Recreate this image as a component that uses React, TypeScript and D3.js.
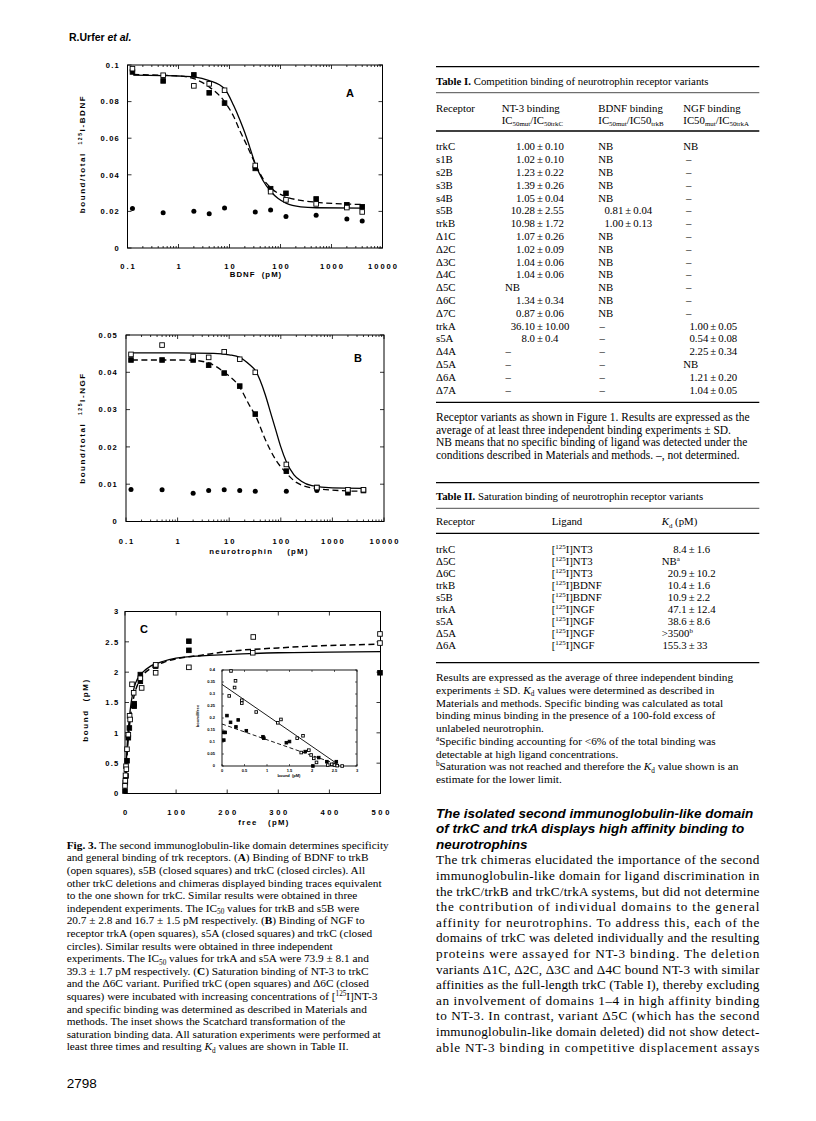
import React from "react";
import * as d3 from "d3";

const SANS = "'Liberation Sans', Arial, sans-serif";
const SERIF = "'Liberation Serif', 'Times New Roman', serif";

// panel A: BDNF competition (pM vs bound/total)
const concA = [0.125, 0.5, 2, 4, 8, 32, 64, 128, 500, 2000, 4000];
const trkB_A = [0.098, 0.0944, 0.0886, 0.0897, 0.0862, 0.0451, 0.0308, 0.0263, 0.0241, 0.0221, 0.0197];
const s5B_A = [0.0962, 0.0913, 0.0946, 0.0848, 0.0792, 0.0435, 0.0324, 0.0299, 0.0268, 0.0236, 0.0225];
const trkC_A = [0.0216, 0.0192, 0.0201, 0.0187, 0.0219, 0.0197, 0.0208, 0.0172, 0.0179, 0.0159, 0.0147];
const fitA_solidX = [0.13, 0.5, 1, 2, 4, 8, 12, 16, 20, 25, 32, 45, 64, 90, 128, 250, 500, 4000];
const fitA_solidY = [0.0945, 0.0942, 0.094, 0.0935, 0.0915, 0.087, 0.078, 0.07, 0.063, 0.055, 0.046, 0.037, 0.031, 0.027, 0.0245, 0.0225, 0.022, 0.0218];
const fitA_dashX = [0.13, 1, 2, 4, 8, 12, 16, 22, 32, 45, 64, 128, 250, 500, 2000, 4000];
const fitA_dashY = [0.0948, 0.094, 0.0925, 0.088, 0.08, 0.072, 0.064, 0.056, 0.046, 0.038, 0.033, 0.028, 0.026, 0.025, 0.024, 0.0238];

// panel B: NGF competition
const concB = [0.125, 0.5, 2, 4, 8, 16, 32, 128, 500, 2000, 4000];
const trkA_B = [0.0448, 0.0473, 0.0442, 0.044, 0.0455, 0.0435, 0.04, 0.0153, 0.0091, 0.0085, 0.0085];
const s5A_B = [0.0433, 0.0433, 0.0433, 0.0419, 0.0398, 0.0363, 0.0288, 0.0135, 0.0091, 0.0077, 0.0083];
const trkC_B = [0.0086, 0.0085, 0.0076, 0.0083, 0.0085, 0.0083, 0.0081, 0.0081, 0.0083, 0.008, 0.0086];
const fitB_solidX = [0.13, 1, 5, 10, 16, 25, 32, 50, 64, 80, 100, 128, 180, 250, 400, 1000, 4000];
const fitB_solidY = [0.0452, 0.0452, 0.0451, 0.0447, 0.044, 0.042, 0.0405, 0.034, 0.029, 0.0245, 0.02, 0.016, 0.0125, 0.0108, 0.0096, 0.009, 0.0089];
const fitB_dashX = [0.13, 1, 2, 4, 8, 16, 25, 32, 50, 80, 128, 200, 500, 2000, 4000];
const fitB_dashY = [0.0433, 0.0433, 0.0432, 0.0425, 0.04, 0.036, 0.031, 0.0285, 0.022, 0.0165, 0.013, 0.0105, 0.0088, 0.0082, 0.0081];

// panel C: saturation binding (free pM vs bound pM)
const cFreeTrkC = [0, 0.6, 1, 2, 2.6, 3.9, 6.5, 9, 10, 13.7, 17, 30, 32.6, 60, 60, 125, 251, 250, 499, 499];
const cBoundTrkC = [0.126, 0.21, 0.3, 0.45, 0.4, 0.73, 0.97, 1.28, 1.22, 1.8, 1.66, 1.9, 1.74, 2.12, 1.99, 2.08, 2.58, 2.32, 2.63, 2.48];
const cFreeD6C = [0, 0.6, 2, 4, 6.5, 8.5, 18, 18, 30, 30, 60, 125, 125, 499];
const cBoundD6C = [0.04, 0.18, 0.29, 0.54, 0.92, 1.08, 1.44, 1.48, 1.96, 1.85, 2.1, 2.51, 2.36, 1.99];
const fitC_solidX = [0, 2, 5, 8, 12, 18, 25, 35, 50, 75, 100, 150, 200, 300, 400, 500];
const fitC_solidY = [0, 0.4, 0.9, 1.2, 1.5, 1.75, 1.9, 2.0, 2.1, 2.18, 2.23, 2.27, 2.29, 2.32, 2.33, 2.34];
const fitC_dashX = [0, 2, 5, 8, 12, 18, 25, 35, 50, 75, 100, 150, 200, 300, 400, 500];
const fitC_dashY = [0, 0.3, 0.75, 1.05, 1.35, 1.62, 1.8, 1.95, 2.06, 2.16, 2.22, 2.28, 2.34, 2.4, 2.44, 2.46];

// inset: Scatchard (bound vs bound/free)
const scBoundTrkC = [0.2, 0.16, 0.3, 0.28, 0.44, 0.44, 0.76, 1.24, 1.31, 1.67, 1.8, 1.76, 1.93, 1.98, 2.04, 2.1, 2.35, 2.44, 2.5, 2.56, 2.67];
const scRatioTrkC = [0.396, 0.292, 0.355, 0.327, 0.274, 0.262, 0.225, 0.18, 0.194, 0.116, 0.126, 0.056, 0.066, 0.046, 0.032, 0.015, 0.004, 0.007, 0.004, 0.0015, 0];
const scBoundD6C = [0.04, 0.07, 0.04, 0.11, 0.19, 0.31, 0.36, 0.54, 0.91, 0.93, 1.43, 1.5, 1.85, 2.02, 2.15, 2.33, 2.54];
const scRatioD6C = [0.108, 0.14, 0.14, 0.21, 0.182, 0.163, 0.192, 0.147, 0.122, 0.116, 0.097, 0.102, 0.06, 0.0, 0.035, 0.018, 0.018];
const scFitSolidX = [0, 2.6];
const scFitSolidY = [0.34, 0.004];
const scFitDashX = [0, 2.56];
const scFitDashY = [0.175, 0.007];

// Table I
const t1Receptor = ["trkC", "s1B", "s2B", "s3B", "s4B", "s5B", "trkB", "Δ1C", "Δ2C", "Δ3C", "Δ4C", "Δ5C", "Δ6C", "Δ7C", "trkA", "s5A", "Δ4A", "Δ5A", "Δ6A", "Δ7A"];
const t1NT3 = ["1.00 ± 0.10", "1.02 ± 0.10", "1.23 ± 0.22", "1.39 ± 0.26", "1.05 ± 0.04", "10.28 ± 2.55", "10.98 ± 1.72", "1.07 ± 0.26", "1.02 ± 0.09", "1.04 ± 0.06", "1.04 ± 0.06", "NB", "1.34 ± 0.34", "0.87 ± 0.06", "36.10 ± 10.00", "8.0 ± 0.4", "–", "–", "–", "–"];
const t1BDNF = ["NB", "NB", "NB", "NB", "NB", "0.81 ± 0.04", "1.00 ± 0.13", "NB", "NB", "NB", "NB", "NB", "NB", "NB", "–", "–", "–", "–", "–", "–"];
const t1NGF = ["NB", "–", "–", "–", "–", "–", "–", "–", "–", "–", "–", "–", "–", "–", "1.00 ± 0.05", "0.54 ± 0.08", "2.25 ± 0.34", "NB", "1.21 ± 0.20", "1.04 ± 0.05"];
const t1Notes = [
  "Receptor variants as shown in Figure 1. Results are expressed as the",
  "average of at least three independent binding experiments ± SD.",
  "NB means that no specific binding of ligand was detected under the",
  "conditions described in Materials and methods. –, not determined.",
];

// Table II
const t2Receptor = ["trkC", "Δ5C", "Δ6C", "trkB", "s5B", "trkA", "s5A", "Δ5A", "Δ6A"];
const t2Ligand = ["NT3", "NT3", "NT3", "BDNF", "BDNF", "NGF", "NGF", "NGF", "NGF"];
const t2Kd = ["8.4 ± 1.6", "NB^{a}", "20.9 ± 10.2", "10.4 ± 1.6", "10.9 ± 2.2", "47.1 ± 12.4", "38.6 ± 8.6", ">3500^{b}", "155.3 ± 33"];
const t2Notes = [
  "Results are expressed as the average of three independent binding",
  "experiments ± SD. ~~K~~_{d} values were determined as described in",
  "Materials and methods. Specific binding was calculated as total",
  "binding minus binding in the presence of a 100-fold excess of",
  "unlabeled neurotrophin.",
  "^{a}Specific binding accounting for <6% of the total binding was",
  "detectable at high ligand concentrations.",
  "^{b}Saturation was not reached and therefore the ~~K~~_{d} value shown is an",
  "estimate for the lower limit.",
];

const captionLines = [
  "**Fig. 3.** The second immunoglobulin-like domain determines specificity",
  "and general binding of trk receptors. (**A**) Binding of BDNF to trkB",
  "(open squares), s5B (closed squares) and trkC (closed circles). All",
  "other trkC deletions and chimeras displayed binding traces equivalent",
  "to the one shown for trkC. Similar results were obtained in three",
  "independent experiments. The IC_{50} values for trkB and s5B were",
  "20.7 ± 2.8 and 16.7 ± 1.5 pM respectively. (**B**) Binding of NGF to",
  "receptor trkA (open squares), s5A (closed squares) and trkC (closed",
  "circles). Similar results were obtained in three independent",
  "experiments. The IC_{50} values for trkA and s5A were 73.9 ± 8.1 and",
  "39.3 ± 1.7 pM respectively. (**C**) Saturation binding of NT-3 to trkC",
  "and the Δ6C variant. Purified trkC (open squares) and Δ6C (closed",
  "squares) were incubated with increasing concentrations of [^{125}I]NT-3",
  "and specific binding was determined as described in Materials and",
  "methods. The inset shows the Scatchard transformation of the",
  "saturation binding data. All saturation experiments were performed at",
  "least three times and resulting ~~K~~_{d} values are shown in Table II.",
];

const headingLines = [
  "The isolated second immunoglobulin-like domain",
  "of trkC and trkA displays high affinity binding to",
  "neurotrophins",
];

const bodyLines = [
  "The trk chimeras elucidated the importance of the second",
  "immunoglobulin-like domain for ligand discrimination in",
  "the trkC/trkB and trkC/trkA systems, but did not determine",
  "the contribution of individual domains to the general",
  "affinity for neurotrophins. To address this, each of the",
  "domains of trkC was deleted individually and the resulting",
  "proteins were assayed for NT-3 binding. The deletion",
  "variants Δ1C, Δ2C, Δ3C and Δ4C bound NT-3 with similar",
  "affinities as the full-length trkC (Table I), thereby excluding",
  "an involvement of domains 1–4 in high affinity binding",
  "to NT-3. In contrast, variant Δ5C (which has the second",
  "immunoglobulin-like domain deleted) did not show detect-",
  "able NT-3 binding in competitive displacement assays",
];

const xA = d3.scaleLog().domain([0.1, 10000]).range([127.5, 382.5]);
const yA = d3.scaleLinear().domain([0, 0.1]).range([248, 65]);
const xB = d3.scaleLog().domain([0.1, 10000]).range([126, 384]);
const yB = d3.scaleLinear().domain([0, 0.05]).range([521.5, 335]);
const xC = d3.scaleLinear().domain([0, 500]).range([125, 380.5]);
const yC = d3.scaleLinear().domain([0, 3]).range([793.5, 611.5]);
const xI = d3.scaleLinear().domain([0, 3]).range([222, 357]);
const yI = d3.scaleLinear().domain([0, 0.4]).range([766, 670]);

// tiny markup: **bold**, ~~italic~~, _{sub}, ^{sup}
function rich(s: string, fs: number) {
  const parts = s.split(/(\*\*.+?\*\*|~~.+?~~|_\{.+?\}|\^\{.+?\})/).filter(Boolean);
  let cur = 0;
  return parts.map((p, i) => {
    let txt = p;
    let target = 0;
    const props: any = {};
    if (p.startsWith("**")) {
      txt = p.slice(2, -2);
      props.fontWeight = "bold";
    } else if (p.startsWith("~~")) {
      txt = p.slice(2, -2);
      props.fontStyle = "italic";
    } else if (p.startsWith("_{")) {
      txt = p.slice(2, -1);
      target = fs * 0.2;
      props.fontSize = fs * 0.64;
    } else if (p.startsWith("^{")) {
      txt = p.slice(2, -1);
      target = -fs * 0.36;
      props.fontSize = fs * 0.64;
    }
    const dy = target - cur;
    cur = target;
    return (
      <tspan key={i} dy={dy !== 0 ? dy : undefined} {...props}>
        {txt}
      </tspan>
    );
  });
}

const logFmt = (v: number) => (v < 1 ? "0.1" : String(v));
const numFmt = (v: number) => (v === 0 ? "0" : String(+v.toFixed(2)));

function Axes({ x, y, xMajor, xMinor = [], yMajor, xFmt, yFmt, fs = 7.6, tl = 4, ls = 2, yls = 1.2, xLabY, yLabX, sw = 1 }: any) {
  const [l, r] = x.range();
  const [b, t] = y.range();
  const st = { stroke: "#000", strokeWidth: sw * 0.8 };
  return (
    <g>
      {xMajor.map((v: number, i: number) => (
        <g key={"xm" + i}>
          <line x1={x(v)} x2={x(v)} y1={b} y2={b - tl} {...st} />
          <line x1={x(v)} x2={x(v)} y1={t} y2={t + tl} {...st} />
        </g>
      ))}
      {xMinor.map((v: number, i: number) => (
        <g key={"xn" + i}>
          <line x1={x(v)} x2={x(v)} y1={b} y2={b - tl / 2} {...st} />
          <line x1={x(v)} x2={x(v)} y1={t} y2={t + tl / 2} {...st} />
        </g>
      ))}
      {yMajor.map((v: number, i: number) => (
        <g key={"ym" + i}>
          <line x1={l} x2={l + tl} y1={y(v)} y2={y(v)} {...st} />
          <line x1={r} x2={r - tl} y1={y(v)} y2={y(v)} {...st} />
        </g>
      ))}
      <rect x={l} y={t} width={r - l} height={b - t} fill="none" stroke="#000" strokeWidth={sw} />
      <g fontFamily={SANS} fontWeight="bold" fontSize={fs}>
        {xMajor.map((v: number, i: number) => (
          <text key={"xl" + i} x={x(v) + ls / 2} y={xLabY} textAnchor="middle" letterSpacing={ls}>
            {xFmt(v)}
          </text>
        ))}
        {yMajor.map((v: number, i: number) => (
          <text key={"yl" + i} x={yLabX} y={y(v) + fs * 0.36} textAnchor="end" letterSpacing={yls}>
            {yFmt(v)}
          </text>
        ))}
      </g>
    </g>
  );
}

function Marks({ xs, ys, x, y, kind, s = 4.6 }: any) {
  return (
    <g>
      {xs.map((v: number, i: number) =>
        kind === "circle" ? (
          <circle key={i} cx={x(v)} cy={y(ys[i])} r={s / 2 + 0.2} fill="#000" />
        ) : (
          <rect
            key={i}
            x={x(v) - s / 2}
            y={y(ys[i]) - s / 2}
            width={s}
            height={s}
            fill={kind === "filled" ? "#000" : "#fff"}
            stroke="#000"
            strokeWidth={0.9}
          />
        )
      )}
    </g>
  );
}

function Fit({ xs, ys, x, y, dashed, w = 1.3, dash = "6 3.5" }: any) {
  const line = d3
    .line<number>()
    .x((d, i) => x(xs[i]))
    .y((d) => y(d))
    .curve(d3.curveMonotoneX);
  return <path d={line(ys) || ""} fill="none" stroke="#000" strokeWidth={w} strokeDasharray={dashed ? dash : undefined} />;
}

function YTitle({ x, y, children, fs = 8, ls = 1.6 }: any) {
  return (
    <text
      transform={`translate(${x},${y}) rotate(-90)`}
      textAnchor="middle"
      fontFamily={SANS}
      fontWeight="bold"
      fontSize={fs}
      letterSpacing={ls}
      xmlSpace="preserve"
    >
      {children}
    </text>
  );
}

function logTicks(s: any) {
  const all = s.ticks();
  const major = all.filter((v: number) => Math.abs(Math.log10(v) - Math.round(Math.log10(v))) < 1e-6);
  const minor = all.filter((v: number) => !major.includes(v));
  return { major, minor };
}

function PanelA() {
  const t = logTicks(xA);
  return (
    <g>
      <Axes x={xA} y={yA} xMajor={t.major} xMinor={t.minor} yMajor={yA.ticks(5)} xFmt={logFmt} yFmt={numFmt} xLabY={268.5} yLabX={120} />
      <Fit xs={fitA_dashX} ys={fitA_dashY} x={xA} y={yA} dashed />
      <Fit xs={fitA_solidX} ys={fitA_solidY} x={xA} y={yA} />
      <Marks xs={concA} ys={trkC_A} x={xA} y={yA} kind="circle" />
      <Marks xs={concA} ys={s5B_A} x={xA} y={yA} kind="filled" />
      <Marks xs={concA} ys={trkB_A} x={xA} y={yA} kind="open" />
      <text x={350} y={97} textAnchor="middle" fontFamily={SANS} fontWeight="bold" fontSize={11}>A</text>
      <text x={256} y={276.5} textAnchor="middle" fontFamily={SANS} fontWeight="bold" fontSize={7.8} letterSpacing={1} xmlSpace="preserve">
        BDNF  (pM)
      </text>
      <YTitle x={84.5} y={154}>
        bound/total  <tspan fontSize={5} dy={-3}>125</tspan>
        <tspan dy={3}>I-BDNF</tspan>
      </YTitle>
    </g>
  );
}

function PanelB() {
  const t = logTicks(xB);
  return (
    <g>
      <Axes x={xB} y={yB} xMajor={t.major} xMinor={t.minor} yMajor={yB.ticks(5)} xFmt={logFmt} yFmt={numFmt} xLabY={543.5} yLabX={118} />
      <Fit xs={fitB_dashX} ys={fitB_dashY} x={xB} y={yB} dashed />
      <Fit xs={fitB_solidX} ys={fitB_solidY} x={xB} y={yB} />
      <Marks xs={concB} ys={trkC_B} x={xB} y={yB} kind="circle" />
      <Marks xs={concB} ys={s5A_B} x={xB} y={yB} kind="filled" />
      <Marks xs={concB} ys={trkA_B} x={xB} y={yB} kind="open" />
      <text x={358} y={362} textAnchor="middle" fontFamily={SANS} fontWeight="bold" fontSize={11}>B</text>
      <text x={259} y={553.5} textAnchor="middle" fontFamily={SANS} fontWeight="bold" fontSize={7.8} letterSpacing={1.3} xmlSpace="preserve">
        neurotrophin    (pM)
      </text>
      <YTitle x={84.5} y={428}>
        bound/total  <tspan fontSize={5} dy={-3}>125</tspan>
        <tspan dy={3}>I-NGF</tspan>
      </YTitle>
    </g>
  );
}

function Inset() {
  const [l, r] = xI.range();
  const [b, t] = yI.range();
  const st = { stroke: "#000", strokeWidth: 0.6 };
  return (
    <g>
      <rect x={l} y={t} width={r - l} height={b - t} fill="#fff" stroke="#000" strokeWidth={0.9} />
      {xI.ticks(6).map((v, i) => (
        <g key={"ix" + i}>
          <line x1={xI(v)} x2={xI(v)} y1={b} y2={b - 2} {...st} />
          <line x1={xI(v)} x2={xI(v)} y1={t} y2={t + 2} {...st} />
          <text x={xI(v)} y={771.5} textAnchor="middle" fontFamily={SANS} fontWeight="bold" fontSize={4}>
            {numFmt(v)}
          </text>
        </g>
      ))}
      {yI.ticks(8).map((v, i) => (
        <g key={"iy" + i}>
          <line x1={l} x2={l + 2} y1={yI(v)} y2={yI(v)} {...st} />
          <line x1={r} x2={r - 2} y1={yI(v)} y2={yI(v)} {...st} />
          <text x={215} y={yI(v) + 1.4} textAnchor="end" fontFamily={SANS} fontWeight="bold" fontSize={4}>
            {numFmt(v)}
          </text>
        </g>
      ))}
      <Fit xs={scFitSolidX} ys={scFitSolidY} x={xI} y={yI} w={0.9} />
      <Fit xs={scFitDashX} ys={scFitDashY} x={xI} y={yI} w={0.9} dashed dash="4 2.5" />
      <Marks xs={scBoundD6C} ys={scRatioD6C} x={xI} y={yI} kind="filled" s={2.6} />
      <Marks xs={scBoundTrkC} ys={scRatioTrkC} x={xI} y={yI} kind="open" s={2.6} />
      <text x={289} y={777} textAnchor="middle" fontFamily={SANS} fontWeight="bold" fontSize={4} xmlSpace="preserve">
        bound  (pM)
      </text>
      <YTitle x={198.5} y={716} fs={4} ls={0.2}>bound/free</YTitle>
    </g>
  );
}

function PanelC() {
  return (
    <g>
      <Axes x={xC} y={yC} xMajor={xC.ticks(5)} yMajor={yC.ticks(6)} xFmt={numFmt} yFmt={numFmt} xLabY={815} yLabX={119.5} ls={2.6} />
      <Fit xs={fitC_dashX} ys={fitC_dashY} x={xC} y={yC} dashed w={1.5} />
      <Fit xs={fitC_solidX} ys={fitC_solidY} x={xC} y={yC} w={1.3} />
      <Marks xs={cFreeD6C} ys={cBoundD6C} x={xC} y={yC} kind="filled" />
      <Marks xs={cFreeTrkC} ys={cBoundTrkC} x={xC} y={yC} kind="open" />
      <Inset />
      <text x={144} y={633} textAnchor="middle" fontFamily={SANS} fontWeight="bold" fontSize={11}>C</text>
      <text x={264} y={825} textAnchor="middle" fontFamily={SANS} fontWeight="bold" fontSize={7.8} letterSpacing={1.3} xmlSpace="preserve">
        free   (pM)
      </text>
      <YTitle x={87.5} y={710}>bound  (pM)</YTitle>
    </g>
  );
}

function Lines({ lines, x, y0, step, fs, width, family = SERIF, weight, italic }: any) {
  return (
    <g fontFamily={family} fontSize={fs} fontWeight={weight} fontStyle={italic ? "italic" : undefined}>
      {lines.map((s: string, i: number) => (
        <text
          key={i}
          x={x}
          y={y0 + i * step + fs * 0.34}
          textLength={width}
          lengthAdjust={width ? "spacing" : undefined}
        >
          {rich(s, fs)}
        </text>
      ))}
    </g>
  );
}

function Cell({ v, y, pm, start, dash, fs }: any) {
  if (v.includes("±")) {
    const [a, b] = v.split("±").map((s: string) => s.trim());
    return (
      <g>
        <text x={pm - 5} y={y} textAnchor="end">{a}</text>
        <text x={pm} y={y} textAnchor="middle">±</text>
        <text x={pm + 5} y={y}>{b}</text>
      </g>
    );
  }
  if (v === "–") return <text x={dash} y={y}>–</text>;
  return <text x={start} y={y}>{rich(v, fs)}</text>;
}

const TL = 436;
const TR = 759.3;

function TableI() {
  const fs = 10.8;
  const off = fs * 0.34;
  return (
    <g fontFamily={SERIF} fontSize={fs}>
      <line x1={TL} x2={TR} y1={66.7} y2={66.7} stroke="#000" strokeWidth={1.3} />
      <text x={TL} y={81.7 + off}>
        <tspan fontWeight="bold">Table I.</tspan> Competition binding of neurotrophin receptor variants
      </text>
      <line x1={TL} x2={TR} y1={92.7} y2={92.7} stroke="#000" strokeWidth={0.7} />
      <text x={TL} y={108.3 + off}>Receptor</text>
      <text x={501.7} y={108.3 + off}>NT-3 binding</text>
      <text x={598.3} y={108.3 + off}>BDNF binding</text>
      <text x={683.3} y={108.3 + off}>NGF binding</text>
      <text x={501.7} y={120.5 + off}>{rich("IC_{50mut}/IC_{50trkC}", fs)}</text>
      <text x={598.3} y={120.5 + off}>{rich("IC_{50mut}/IC50_{trkB}", fs)}</text>
      <text x={683.3} y={120.5 + off}>{rich("IC50_{mut}/IC_{50trkA}", fs)}</text>
      <line x1={TL} x2={TR} y1={131} y2={131} stroke="#000" strokeWidth={1.3} />
      {t1Receptor.map((r, i) => {
        const y = 146.7 + i * 12.8 + off;
        return (
          <g key={i}>
            <text x={TL} y={y}>{r}</text>
            <Cell v={t1NT3[i]} y={y} pm={540} start={505} dash={505.5} fs={fs} />
            <Cell v={t1BDNF[i]} y={y} pm={628.3} start={598.3} dash={599.5} fs={fs} />
            <Cell v={t1NGF[i]} y={y} pm={713.3} start={683.3} dash={686} fs={fs} />
          </g>
        );
      })}
      <line x1={TL} x2={TR} y1={402.3} y2={402.3} stroke="#000" strokeWidth={1.3} />
      <Lines lines={t1Notes} x={TL} y0={417.3} step={12.6} fs={11.5} />
    </g>
  );
}

function TableII() {
  const fs = 10.8;
  const off = fs * 0.34;
  return (
    <g fontFamily={SERIF} fontSize={fs}>
      <line x1={TL} x2={TR} y1={482.7} y2={482.7} stroke="#000" strokeWidth={1.3} />
      <text x={TL} y={496.7 + off}>
        <tspan fontWeight="bold">Table II.</tspan> Saturation binding of neurotrophin receptor variants
      </text>
      <line x1={TL} x2={TR} y1={508.3} y2={508.3} stroke="#000" strokeWidth={0.7} />
      <text x={TL} y={521.7 + off}>Receptor</text>
      <text x={551.7} y={521.7 + off}>Ligand</text>
      <text x={661.7} y={521.7 + off}>{rich("~~K~~_{d} (pM)", fs)}</text>
      <line x1={TL} x2={TR} y1={533.3} y2={533.3} stroke="#000" strokeWidth={1.3} />
      {t2Receptor.map((r, i) => {
        const y = 549.3 + i * 12 + off;
        return (
          <g key={i}>
            <text x={TL} y={y}>{r}</text>
            <text x={551.7} y={y}>{rich("[^{125}I]" + t2Ligand[i], fs)}</text>
            <Cell v={t2Kd[i]} y={y} pm={691.7} start={661.7} dash={662} fs={fs} />
          </g>
        );
      })}
      <line x1={TL} x2={TR} y1={662.7} y2={662.7} stroke="#000" strokeWidth={1.3} />
      <Lines lines={t2Notes} x={TL} y0={677.5} step={12.7} fs={11.3} />
    </g>
  );
}

export default function App() {
  return (
    <svg width={816} height={1121} style={{ position: "absolute", left: 0, top: 0 }} fontFamily={SERIF}>
      <rect width={816} height={1121} fill="#fff" />
      <text x={69} y={40.5} fontFamily={SANS} fontWeight="bold" fontSize={10.5}>
        R.Urfer <tspan fontStyle="italic">et al.</tspan>
      </text>
      <PanelA />
      <PanelB />
      <PanelC />
      <Lines lines={captionLines} x={66.7} y0={845} step={12.6} fs={11.3} />
      <text x={66.7} y={1087.5} fontFamily={SANS} fontSize={13.5}>2798</text>
      <TableI />
      <TableII />
      <Lines lines={headingLines} x={TL} y0={813.3} step={15.4} fs={13.5} family={SANS} weight="bold" italic />
      <Lines lines={bodyLines} x={TL} y0={860} step={15.6} fs={13.2} width={TR - TL} />
    </svg>
  );
}
